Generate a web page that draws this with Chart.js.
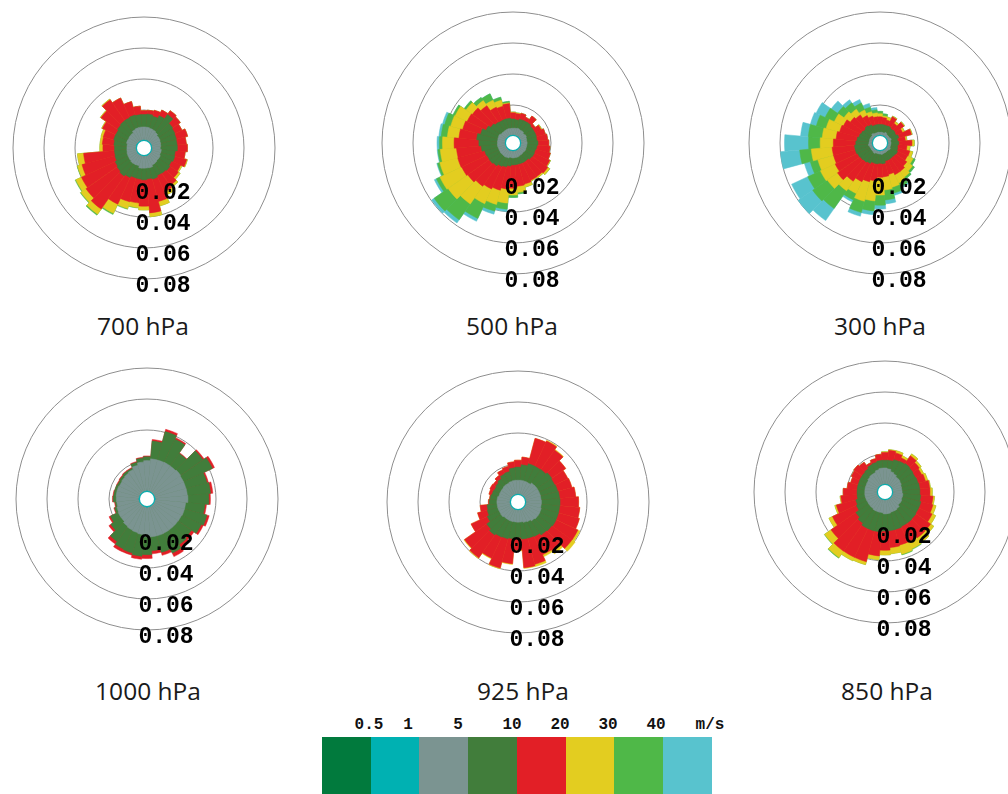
<!DOCTYPE html>
<html>
<head>
<meta charset="utf-8">
<script src="https://cdn.jsdelivr.net/npm/chart.js@4.4.1/dist/chart.umd.min.js"></script>
<style>
  body { margin: 0; width: 1008px; height: 794px; overflow: hidden; background: #fff; position: relative; font-family: "Open Sans", sans-serif; }
  .rose { position: absolute; width: 300px; height: 300px; }
  .title { position: absolute; width: 200px; text-align: center; font-size: 24.5px; color: #1a1a1a; transform: translate(-50%, -50%); white-space: nowrap; }
  .box { position: absolute; top: 737px; height: 70px; }
  .klab { position: absolute; top: 725px; font: bold 16px "Liberation Mono", monospace; color: #111; transform: translate(-50%, -50%); }
</style>
</head>
<body>
<script>
// frequencies are in thousandths (0.001), one value per 10 degree sector, starting at north, clockwise
const UNIT = 0.001;
const DIRECTIONS = Array.from({ length: 36 }, (_, i) => (i * 10) + '°');
const RINGS = [0.02, 0.04, 0.06, 0.08];
const RING_LABELS = ['0.02', '0.04', '0.06', '0.08'];
const SPEED_CLASSES = ['<0.5', '0.5-1', '1-5', '5-10', '10-20', '20-30', '30-40', '>40'];
const KEY_LABELS = ['0.5', '1', '5', '10', '20', '30', '40', 'm/s'];
const CLASS_COLORS = ['#017a3d', '#00b1b2', '#7b9491', '#417d3b', '#e21f26', '#e3cd20', '#4fb848', '#58c3ce'];
const LEVELS = ['700 hPa', '500 hPa', '300 hPa', '1000 hPa', '925 hPa', '850 hPa'];

// 700 hPa
const f700_1  = [0.6,0.5,0.7,0.5,0.4,0.6,0.5,0.6,0.4,0.5,0.7,0.5,0.6,0.5,0.4,0.6,0.7,0.5,0.5,0.6,0.4,0.5,0.6,0.7,0.5,0.4,0.6,0.5,0.5,0.7,0.6,0.4,0.5,0.6,0.5,0.6];
const f700_5  = [8.5,8.5,8,8,7.5,6.5,6.5,6,6,5.5,6,6,6.5,6.5,7,7,8,8,8,8,7,7,7,6.5,6.5,6.5,6,6,6,6.5,6.5,7,7,8,8.5,8.5];
const f700_10 = [8,8.5,8,10,14,11,10.5,10.5,10.5,11,9,9.5,8,9,8,7.5,7.5,7,7.5,7,8,9,10,9.5,9,8,8,8,8.5,8.5,8.5,9,9.5,8.5,8.5,8];
const f700_20 = [2.5,2.5,4,4,3,6,5,7.5,6,6.5,6.5,8,6.5,6.5,9.5,11.5,15,22,17,15.5,16,19,26,24.5,24,22,20,7.5,7.5,7,9.5,13,16.5,14,9,5.5];
const f700_30 = [0,0,0,0,0,0,0,0,0,0,0,0.5,1,1.5,1.5,2.5,3,2.5,2.5,3,4.5,6.5,4,4,4,3,4,2,1.5,1.5,0.5,0.5,0.5,0,0,0];
const f700_40 = [0,0,0,0,0,0,0,0,0,0,0,0,0,0,0,0,0,0,0,0.3,0.5,0.8,0.8,0.5,0.5,0.3,0,0,0,0,0,0,0,0,0,0];

// 500 hPa
const f500_1  = [0.5,0.6,0.4,0.5,0.7,0.5,0.5,0.6,0.4,0.6,0.5,0.5,0.7,0.4,0.5,0.6,0.5,0.5,0.6,0.4,0.5,0.7,0.5,0.6,0.5,0.4,0.6,0.5,0.5,0.6,0.7,0.5,0.4,0.5,0.6,0.5];
const f500_5  = [4.5,4.5,5,4.5,4.5,4,4.5,4,4,4,4,4,4,4,4,4,4.5,4.5,4.5,4.5,5,5,5,5,5,5,5,5,5,5,5,4.5,4.5,4.5,4.5,4.5];
const f500_10 = [6,5.5,6,6.5,6.5,6.5,6,6.5,6.5,7,6.5,6,6,6,5,5,4.5,4.5,4.5,5.5,6,6.5,8,8.5,8.5,9,10.5,12,13.5,11.5,9,8,7,6.5,6.5,6.5];
const f500_20 = [4,4,4,2.5,5,2,4.5,6,7,7,8.5,10,11,12.5,12.5,12.5,13.5,14,15,15,15.5,16,16,17,18,18,16,16,11.5,12,13.5,14.5,13,9.5,8.5,9.5];
const f500_30 = [0.5,0.5,0,0,0,0,0.5,0,0,0,0,0,0.5,1.5,1,0.5,2,4,4.5,9,9.5,10.5,14,15.5,15.5,12,10.5,7.5,7.5,8,8.5,5,4,5,4,0.5];
const f500_40 = [0,0,0,0,0,0,0,0,0,0,0,0,0,0,0,0,0,1,1.5,4,4.5,10.5,12.5,11,2.5,1.5,1.5,2,4,4,1.5,1.5,2.5,4.5,2,1];
const f500_50 = [0,0,0,0,0,0,0,0,0,0,0,0,0,0,0,0,0,0,0,1.5,2,2,2.5,2,1.5,0.5,0.5,1.5,1.5,1.5,0,0,0,0,0,0];

// 300 hPa
const f300_1  = [0.4,0.5,0.4,0.6,0.5,0.4,0.5,0.5,0.4,0.6,0.5,0.4,0.5,0.6,0.4,0.5,0.5,0.4,0.6,0.5,0.4,0.5,0.6,0.5,0.4,0.5,0.5,0.6,0.4,0.5,0.5,0.4,0.6,0.5,0.4,0.5];
const f300_5  = [2,2,2,2.5,2,2,2,2.5,2,2,2,2,2.5,2,2,2,2,2.5,2,2,2,2.5,2,2,2,2,2.5,2,2,2,2,2,2.5,2,2,2];
const f300_10 = [5,5,5,4.5,4.5,5,4.5,5,4.5,5,4.5,5,5,5,5,5,5,6,6,6.5,6.5,7,8,8.5,9,9.5,9,8.5,8,7,6.5,6,6,6,5,5];
const f300_20 = [5,4.5,3.5,6.5,4,7,4.5,8.5,5,8.5,6,8,7,9,10.5,10.5,9,8.5,9,11,12.5,13,15,18,16,14.5,14.5,14.5,13.5,13,12.5,10.5,8.5,6.5,6,5];
const f300_30 = [2,1,2,0.5,1.5,0.5,1.5,0.5,1,1.5,2,2,4,4.5,4.5,6,8.5,8.5,11.5,13,13,8.5,7.5,8,10.5,10.5,13.5,8.5,9,9,6.5,5,4.5,4,3,2.5];
const f300_40 = [1.5,1.5,0,0,0,0,0,0,0,0,0,0,1.5,1.5,1.5,2.5,4,6.5,6.5,6.5,7.5,4.5,14,11.5,9,5,7.5,7.5,9,6.5,6.5,5,5,5,3,2];
const f300_50 = [0,0,0,0,0,0,0,0,0,0,0,0,0,0,0,1,1.5,2.5,2.5,2.5,2.5,1.5,9.5,11.5,11.5,4,12.5,15.5,5,4,6.5,5,2.5,2.5,2.5,1.5];

// 1000 hPa
const f1000_1  = [0.8,0.5,0.5,0.6,0.5,0.5,0.5,0.5,0.6,0.9,0.5,0.5,0.6,0.5,0.5,0.5,0.6,0.5,0.9,0.5,0.5,0.6,0.5,0.5,0.5,0.6,0.5,0.8,0.5,0.5,0.6,0.5,0.5,0.5,0.6,0.5];
const f1000_5  = [19.5,21,21,21,21,21.5,21,21,21,21,20,20,19.5,19.5,19.5,19.5,19.5,19.5,19,18,17.5,17,16.5,15.5,15.5,15,14.5,14.5,15,15,14.5,15,15.5,16,17.5,19];
const f1000_10 = [2.5,11.5,19,16.5,10,17.5,20.5,14,15,13.5,12.5,15,14,10.5,11.5,14,11,9,11.5,14,13.5,13.5,12,8,5.5,1.5,1,2,1.5,1.5,1.5,1.5,1.5,1,2,2.5];
const f1000_20 = [0.5,1,1.5,1,0.5,1,1.5,1,1.5,1,1,1.5,1.5,2,2.5,2.5,2,2,2.5,2,1.5,2,2,1.5,1,0.5,0.5,0.5,0.5,0,0.5,0.5,0.5,0.5,0.5,0.5];

// 925 hPa
const f925_1  = [0.5,0.6,0.5,0.4,0.5,0.6,0.5,0.5,0.4,0.6,0.5,0.5,0.6,0.5,0.4,0.5,0.6,0.5,0.5,0.4,0.6,0.5,0.5,0.6,0.4,0.5,0.5,0.6,0.5,0.4,0.5,0.6,0.5,0.5,0.4,0.6];
const f925_5  = [9,9,9,9,10,10,10,10,10,10,10,10.5,10.5,10.5,10,9,8.5,8,8,8,8,8,8,8.5,8.5,8.5,8.5,8.5,8.5,8,8,8,8.5,8.5,9,9];
const f925_10 = [8.5,10,11.5,11.5,10.5,11.5,11,11.5,12,12,12,11.5,11.5,11,11,10.5,10.5,11,10,11,11.5,12,13,11,8.5,7,6.5,5,4.5,4.5,4,4.5,5,6.5,6.5,8];
const f925_20 = [4.5,5,17,18,15.5,11,9.5,9.5,10.5,12,13,14,15.5,16,13,13,17.5,18.5,8,16,19.5,15,18,17.5,11.5,6.5,4.5,0.5,0.5,2,3,2,2.5,3,3.5,4];
const f925_30 = [0,0,0,0.5,0.5,0,0,0,0,0,0,0,1.5,2.5,2,1.5,1.5,0.5,0.5,0.5,0.5,0.5,0.5,0.5,0,0,0,0,0,0,0,0,0,0,0,0];

// 850 hPa
const f850_1  = [0.5,0.5,0.6,0.4,0.5,0.5,0.6,0.5,0.4,0.5,0.6,0.5,0.5,0.4,0.6,0.5,0.5,0.5,0.6,0.4,0.5,0.5,0.6,0.5,0.4,0.5,0.6,0.5,0.5,0.4,0.5,0.6,0.5,0.5,0.4,0.5];
const f850_5  = [10.5,10,8.5,8,7,7,6.5,6,6,6,6.5,6.5,7,7,8,8.5,8.5,9,9,8.5,8.5,8.5,8,8,8,8,8,8,8,8,8,8.5,9,9,10,10.5];
const f850_10 = [5,5.5,8,9,10.5,10,10,11,11.5,11.5,11.5,12.5,12,12.5,11.5,11,11.5,11,11,12.5,12.5,12.5,11.5,10,7.5,6.5,5,5,5,5,5,4.5,4.5,5.5,5,5];
const f850_20 = [5,6.5,4.5,2.5,6,5,4.5,5,6.5,6.5,8,8,9.5,11.5,11.5,11,10.5,11,12.5,15.5,20.5,20.5,22,19.5,17,13,10.5,9,6.5,5,6,6.5,5,1.5,2.5,4];
const f850_30 = [0.5,0.5,1.5,1.5,1.5,1.5,1.5,1.5,0.5,1.5,1,2,2.5,2.5,4,5,6,4,3,2.5,2,2.5,5,5,2.5,1,0.5,0,0,0,0,0,0,0,0,0];
const f850_40 = [0,0,0,0,0,0,0,0,0,0,0,0,0,0,0,0.5,0.5,0,0,0,0,0,0.5,0.3,0,0,0,0,0,0,0,0,0,0,0,0];

// speed-class series per level, in the order of SPEED_CLASSES (null = nothing in that class)
const LEVEL_SERIES = [
  [null, f700_1, f700_5, f700_10, f700_20, f700_30, f700_40, null],
  [null, f500_1, f500_5, f500_10, f500_20, f500_30, f500_40, f500_50],
  [null, f300_1, f300_5, f300_10, f300_20, f300_30, f300_40, f300_50],
  [null, f1000_1, f1000_5, f1000_10, f1000_20, null, null, null],
  [null, f925_1, f925_5, f925_10, f925_20, f925_30, null, null],
  [null, f850_1, f850_5, f850_10, f850_20, f850_30, f850_40, null]
];

// page placement of each rose centre and its title
const PLACES = [
  { cx: 144, cy: 148, tx: 143, ty: 325 },
  { cx: 513, cy: 143, tx: 512, ty: 325 },
  { cx: 880, cy: 143, tx: 880, ty: 325 },
  { cx: 147, cy: 499, tx: 148, ty: 690 },
  { cx: 518, cy: 502, tx: 523, ty: 690 },
  { cx: 885, cy: 492, tx: 887, ty: 690 }
];
const KEY_LEFT = 322, KEY_W = 48.7;
const KEY_LABEL_X = [369, 408, 458, 512, 560, 608, 656, 710];

const SIZE = 300;
const PX_PER_UNIT = 1550;   // 0.02 -> 31 px
const HOLE_PX = 7;
const rMin = -HOLE_PX / PX_PER_UNIT;
const rMax = rMin + (SIZE / 2) / PX_PER_UNIT;

// white hole in the middle (radius of the value 0) and the ring labels
const roseExtras = {
  id: 'roseExtras',
  afterDatasetsDraw(chart) {
    const s = chart.scales.r;
    const ctx = chart.ctx;
    ctx.save();
    ctx.beginPath();
    ctx.arc(s.xCenter, s.yCenter, s.getDistanceFromCenterForValue(0), 0, Math.PI * 2);
    ctx.fillStyle = '#fff';
    ctx.fill();
    ctx.restore();
  },
  afterDraw(chart) {
    const s = chart.scales.r;
    const ctx = chart.ctx;
    ctx.save();
    ctx.font = 'bold 23px "Liberation Mono", monospace';
    ctx.fillStyle = '#000';
    ctx.textAlign = 'center';
    ctx.textBaseline = 'middle';
    RINGS.forEach((v, i) => {
      ctx.fillText(RING_LABELS[i], s.xCenter + 19, s.yCenter + s.getDistanceFromCenterForValue(v) + 7.5);
    });
    ctx.restore();
  }
};

function buildDatasets(classArrays) {
  const cum = new Array(DIRECTIONS.length).fill(0);
  const sets = [];
  classArrays.forEach((arr, k) => {
    if (!arr) return;
    arr.forEach((v, i) => { cum[i] += v * UNIT; });
    sets.push({
      label: SPEED_CLASSES[k],
      data: cum.slice(),
      backgroundColor: CLASS_COLORS[k],
      borderColor: CLASS_COLORS[k],
      borderWidth: 0.5
    });
  });
  return sets;
}

LEVELS.forEach((name, li) => {
  const p = PLACES[li];
  const wrap = document.createElement('div');
  wrap.className = 'rose';
  wrap.style.left = (p.cx - SIZE / 2) + 'px';
  wrap.style.top = (p.cy - SIZE / 2) + 'px';
  const canvas = document.createElement('canvas');
  wrap.appendChild(canvas);
  document.body.appendChild(wrap);

  const title = document.createElement('div');
  title.className = 'title';
  title.textContent = name;
  title.style.left = p.tx + 'px';
  title.style.top = p.ty + 'px';
  document.body.appendChild(title);

  new Chart(canvas.getContext('2d'), {
    type: 'polarArea',
    data: { labels: DIRECTIONS, datasets: buildDatasets(LEVEL_SERIES[li]) },
    options: {
      responsive: true,
      maintainAspectRatio: false,
      animation: false,
      layout: { padding: 0 },
      plugins: { legend: { display: false }, tooltip: { enabled: false } },
      scales: {
        r: {
          min: rMin,
          max: rMax,
          startAngle: -5,
          z: 1,
          ticks: { display: false, stepSize: 0.02 },
          afterBuildTicks: axis => { axis.ticks = RINGS.map(v => ({ value: v })); },
          grid: { circular: true, color: '#8e8e8e', lineWidth: 1 },
          angleLines: { display: false },
          pointLabels: { display: false }
        }
      }
    },
    plugins: [roseExtras]
  });
});

// colour key
CLASS_COLORS.forEach((c, i) => {
  const b = document.createElement('div');
  b.className = 'box';
  b.style.left = (KEY_LEFT + i * KEY_W) + 'px';
  b.style.width = (KEY_W + 0.5) + 'px';
  b.style.background = c;
  document.body.appendChild(b);
});
KEY_LABELS.forEach((t, i) => {
  const l = document.createElement('div');
  l.className = 'klab';
  l.textContent = t;
  l.style.left = KEY_LABEL_X[i] + 'px';
  document.body.appendChild(l);
});
</script>
</body>
</html>
